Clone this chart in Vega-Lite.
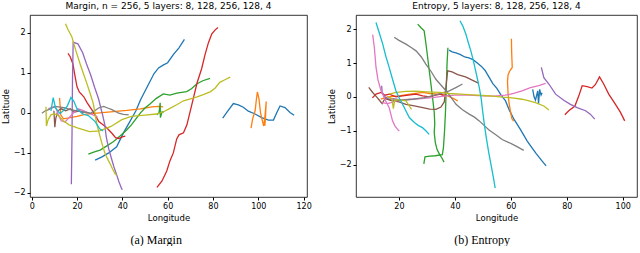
{
"$schema":"https://vega.github.io/schema/vega-lite/v6.json",
"padding":{"left":0,"right":0,"top":1,"bottom":0},
"config":{"font":"DejaVu Sans","view":{"stroke":"#000","strokeWidth":0.8},
"axis":{"grid":false,"domain":false,"labelFontSize":8,"titleFontSize":8.5,"labelColor":"#000","titleColor":"#000","titleFontWeight":"normal","tickColor":"#000","tickSize":3,"labelPadding":2,"titlePadding":3,"labelFont":"DejaVu Sans","titleFont":"DejaVu Sans"},
"title":{"fontSize":9,"fontWeight":"normal","color":"#000","font":"DejaVu Sans"}},
"datasets":{
"L":[
{"s":"blue1","i":0,"x":28,"y":-1.18},{"s":"blue1","i":1,"x":31,"y":-1.1},{"s":"blue1","i":2,"x":34,"y":-1.0},{"s":"blue1","i":3,"x":37.5,"y":-0.85},{"s":"blue1","i":4,"x":40.5,"y":-0.5},{"s":"blue1","i":5,"x":43,"y":-0.25},{"s":"blue1","i":6,"x":46,"y":0.05},{"s":"blue1","i":7,"x":48,"y":0.32},{"s":"blue1","i":8,"x":51,"y":0.65},{"s":"blue1","i":9,"x":54,"y":0.98},{"s":"blue1","i":10,"x":56,"y":1.12},{"s":"blue1","i":11,"x":58,"y":1.19},{"s":"blue1","i":12,"x":60,"y":1.25},{"s":"blue1","i":13,"x":62.5,"y":1.45},{"s":"blue1","i":14,"x":65,"y":1.62},{"s":"blue1","i":15,"x":67.4,"y":1.83},
{"s":"blue2","i":0,"x":84.3,"y":-0.13},{"s":"blue2","i":1,"x":86.1,"y":0.01},{"s":"blue2","i":2,"x":89,"y":0.23},{"s":"blue2","i":3,"x":91.2,"y":0.2},{"s":"blue2","i":4,"x":93.4,"y":0.14},{"s":"blue2","i":5,"x":95.6,"y":0.04},{"s":"blue2","i":6,"x":98.6,"y":-0.03},{"s":"blue2","i":7,"x":101.5,"y":-0.12},{"s":"blue2","i":8,"x":104.5,"y":-0.18},{"s":"blue2","i":9,"x":106.7,"y":-0.18},{"s":"blue2","i":10,"x":108.2,"y":0.01},{"s":"blue2","i":11,"x":109.6,"y":0.17},{"s":"blue2","i":12,"x":111.8,"y":0.13},{"s":"blue2","i":13,"x":114,"y":0.01},{"s":"blue2","i":14,"x":115.8,"y":-0.06},
{"s":"orange1","i":0,"x":12.3,"y":0.37},{"s":"orange1","i":1,"x":12.8,"y":-0.05},{"s":"orange1","i":2,"x":14,"y":-0.15},{"s":"orange1","i":3,"x":17,"y":-0.12},{"s":"orange1","i":4,"x":20,"y":-0.09},{"s":"orange1","i":5,"x":24,"y":-0.03},{"s":"orange1","i":6,"x":30,"y":0.0},{"s":"orange1","i":7,"x":36,"y":0.03},{"s":"orange1","i":8,"x":42,"y":0.06},{"s":"orange1","i":9,"x":48,"y":0.1},{"s":"orange1","i":10,"x":53,"y":0.15},{"s":"orange1","i":11,"x":56,"y":0.16},{"s":"orange1","i":12,"x":58,"y":0.15},
{"s":"orange2","i":0,"x":96.8,"y":-0.38},{"s":"orange2","i":1,"x":97.5,"y":-0.15},{"s":"orange2","i":2,"x":98.6,"y":0.05},{"s":"orange2","i":3,"x":99.2,"y":0.35},{"s":"orange2","i":4,"x":99.6,"y":0.52},{"s":"orange2","i":5,"x":100.3,"y":0.35},{"s":"orange2","i":6,"x":101,"y":0.0},{"s":"orange2","i":7,"x":101.8,"y":-0.2},{"s":"orange2","i":8,"x":102.4,"y":-0.33},{"s":"orange2","i":9,"x":103,"y":-0.05},{"s":"orange2","i":10,"x":103.5,"y":0.28},{"s":"orange2","i":11,"x":103.2,"y":-0.1},{"s":"orange2","i":12,"x":102.9,"y":-0.32},
{"s":"green1","i":0,"x":25,"y":-1.03},{"s":"green1","i":1,"x":28,"y":-0.97},{"s":"green1","i":2,"x":30.2,"y":-0.93},{"s":"green1","i":3,"x":33,"y":-0.83},{"s":"green1","i":4,"x":36,"y":-0.72},{"s":"green1","i":5,"x":39,"y":-0.58},{"s":"green1","i":6,"x":41.9,"y":-0.43},{"s":"green1","i":7,"x":44,"y":-0.3},{"s":"green1","i":8,"x":46,"y":-0.15},{"s":"green1","i":9,"x":48,"y":0.0},{"s":"green1","i":10,"x":50,"y":0.12},{"s":"green1","i":11,"x":52.2,"y":0.22},{"s":"green1","i":12,"x":55,"y":0.36},{"s":"green1","i":13,"x":58.1,"y":0.47},{"s":"green1","i":14,"x":61,"y":0.44},{"s":"green1","i":15,"x":64,"y":0.49},{"s":"green1","i":16,"x":68.4,"y":0.53},{"s":"green1","i":17,"x":70.5,"y":0.6},{"s":"green1","i":18,"x":72.8,"y":0.72},{"s":"green1","i":19,"x":75.5,"y":0.8},{"s":"green1","i":20,"x":78.7,"y":0.86},
{"s":"green2","i":0,"x":55.2,"y":-0.05},{"s":"green2","i":1,"x":56.2,"y":0.0},{"s":"green2","i":2,"x":56.7,"y":0.25},{"s":"green2","i":3,"x":56.8,"y":-0.12},{"s":"green2","i":4,"x":57.5,"y":0.02},{"s":"green2","i":5,"x":58.3,"y":0.02},
{"s":"red1","i":0,"x":16,"y":1.48},{"s":"red1","i":1,"x":17,"y":1.4},{"s":"red1","i":2,"x":18.2,"y":1.22},{"s":"red1","i":3,"x":19,"y":0.95},{"s":"red1","i":4,"x":20,"y":0.65},{"s":"red1","i":5,"x":21,"y":0.52},{"s":"red1","i":6,"x":23,"y":0.4},{"s":"red1","i":7,"x":24.5,"y":0.25},{"s":"red1","i":8,"x":26.5,"y":0.08},{"s":"red1","i":9,"x":28,"y":-0.05},{"s":"red1","i":10,"x":29.6,"y":-0.22},{"s":"red1","i":11,"x":31.5,"y":-0.3},{"s":"red1","i":12,"x":33.2,"y":-0.38},{"s":"red1","i":13,"x":35.4,"y":-0.51},{"s":"red1","i":14,"x":37,"y":-0.62},{"s":"red1","i":15,"x":38.5,"y":-0.64},{"s":"red1","i":16,"x":40,"y":-0.6},{"s":"red1","i":17,"x":41.3,"y":-0.58},
{"s":"red2","i":0,"x":55.3,"y":-1.86},{"s":"red2","i":1,"x":57.5,"y":-1.7},{"s":"red2","i":2,"x":59.6,"y":-1.45},{"s":"red2","i":3,"x":61,"y":-1.2},{"s":"red2","i":4,"x":62.5,"y":-1.0},{"s":"red2","i":5,"x":64,"y":-0.65},{"s":"red2","i":6,"x":65,"y":-0.55},{"s":"red2","i":7,"x":67,"y":-0.5},{"s":"red2","i":8,"x":68.5,"y":-0.3},{"s":"red2","i":9,"x":70,"y":0.05},{"s":"red2","i":10,"x":71.5,"y":0.4},{"s":"red2","i":11,"x":73,"y":0.75},{"s":"red2","i":12,"x":75,"y":1.1},{"s":"red2","i":13,"x":76.5,"y":1.45},{"s":"red2","i":14,"x":78,"y":1.75},{"s":"red2","i":15,"x":79.5,"y":1.97},{"s":"red2","i":16,"x":81,"y":2.07},{"s":"red2","i":17,"x":82.2,"y":2.13},
{"s":"purple1","i":0,"x":17.5,"y":-1.78},{"s":"purple1","i":1,"x":17.8,"y":-0.5},{"s":"purple1","i":2,"x":18.0,"y":0.8},{"s":"purple1","i":3,"x":18.3,"y":1.76},{"s":"purple1","i":4,"x":20.4,"y":1.72},{"s":"purple1","i":5,"x":22.5,"y":1.5},{"s":"purple1","i":6,"x":24.2,"y":1.22},{"s":"purple1","i":7,"x":26,"y":0.95},{"s":"purple1","i":8,"x":27.8,"y":0.63},{"s":"purple1","i":9,"x":29.5,"y":0.35},{"s":"purple1","i":10,"x":30.5,"y":0.12},{"s":"purple1","i":11,"x":31.3,"y":-0.05},{"s":"purple1","i":12,"x":32.2,"y":-0.28},{"s":"purple1","i":13,"x":32.9,"y":-0.6},{"s":"purple1","i":14,"x":34,"y":-0.9},{"s":"purple1","i":15,"x":35.1,"y":-1.12},{"s":"purple1","i":16,"x":36.3,"y":-1.35},{"s":"purple1","i":17,"x":37.4,"y":-1.53},{"s":"purple1","i":18,"x":38.5,"y":-1.72},{"s":"purple1","i":19,"x":39.6,"y":-1.88},{"s":"purple1","i":20,"x":40,"y":-1.92},
{"s":"brown1","i":0,"x":9.8,"y":0.05},{"s":"brown1","i":1,"x":10.2,"y":-0.36},{"s":"brown1","i":2,"x":10.6,"y":-0.15},{"s":"brown1","i":3,"x":11.5,"y":0.05},{"s":"brown1","i":4,"x":13,"y":0.1},{"s":"brown1","i":5,"x":15,"y":0.05},{"s":"brown1","i":6,"x":17,"y":0.1},{"s":"brown1","i":7,"x":19,"y":0.02},{"s":"brown1","i":8,"x":21,"y":0.05},{"s":"brown1","i":9,"x":23,"y":0.0},
{"s":"pink1","i":0,"x":7.3,"y":0.1},{"s":"pink1","i":1,"x":9,"y":0.14},{"s":"pink1","i":2,"x":10.5,"y":0.15},{"s":"pink1","i":3,"x":11.8,"y":-0.05},{"s":"pink1","i":4,"x":13,"y":-0.2},{"s":"pink1","i":5,"x":14.7,"y":-0.23},{"s":"pink1","i":6,"x":16.5,"y":-0.12},{"s":"pink1","i":7,"x":18.5,"y":0.0},{"s":"pink1","i":8,"x":20.5,"y":0.1},{"s":"pink1","i":9,"x":22.5,"y":0.06},{"s":"pink1","i":10,"x":25,"y":0.0},{"s":"pink1","i":11,"x":27,"y":-0.05},{"s":"pink1","i":12,"x":29,"y":-0.1},
{"s":"gray1","i":0,"x":4.5,"y":-0.01},{"s":"gray1","i":1,"x":6,"y":0.05},{"s":"gray1","i":2,"x":7.5,"y":0.08},{"s":"gray1","i":3,"x":9,"y":0.12},{"s":"gray1","i":4,"x":10.4,"y":0.16},{"s":"gray1","i":5,"x":12.5,"y":0.14},{"s":"gray1","i":6,"x":14.8,"y":0.12},{"s":"gray1","i":7,"x":17,"y":0.08},{"s":"gray1","i":8,"x":20.7,"y":0.04},{"s":"gray1","i":9,"x":23,"y":0.02},{"s":"gray1","i":10,"x":25.9,"y":-0.01},{"s":"gray1","i":11,"x":28,"y":0.06},{"s":"gray1","i":12,"x":29.5,"y":0.12},{"s":"gray1","i":13,"x":31.7,"y":0.16},{"s":"gray1","i":14,"x":33.5,"y":0.12},{"s":"gray1","i":15,"x":35.4,"y":0.08},{"s":"gray1","i":16,"x":38.4,"y":-0.01},{"s":"gray1","i":17,"x":40.5,"y":-0.04},{"s":"gray1","i":18,"x":42.8,"y":-0.05},
{"s":"olive1","i":0,"x":14.9,"y":2.22},{"s":"olive1","i":1,"x":16,"y":2.08},{"s":"olive1","i":2,"x":17.7,"y":1.9},{"s":"olive1","i":3,"x":19.5,"y":1.55},{"s":"olive1","i":4,"x":21.3,"y":1.23},{"s":"olive1","i":5,"x":22.8,"y":0.98},{"s":"olive1","i":6,"x":24.3,"y":0.74},{"s":"olive1","i":7,"x":25.8,"y":0.48},{"s":"olive1","i":8,"x":27.2,"y":0.23},{"s":"olive1","i":9,"x":28.7,"y":-0.27},{"s":"olive1","i":10,"x":30.2,"y":-0.6},{"s":"olive1","i":11,"x":31.3,"y":-0.82},{"s":"olive1","i":12,"x":32.4,"y":-1.02},{"s":"olive1","i":13,"x":33.5,"y":-1.15},{"s":"olive1","i":14,"x":34.6,"y":-1.27},{"s":"olive1","i":15,"x":35.7,"y":-1.4},{"s":"olive1","i":16,"x":36.8,"y":-1.52},{"s":"olive1","i":17,"x":37.5,"y":-1.56},
{"s":"olive2","i":0,"x":6.3,"y":0.15},{"s":"olive2","i":1,"x":6.5,"y":-0.33},{"s":"olive2","i":2,"x":7.2,"y":-0.18},{"s":"olive2","i":3,"x":8.5,"y":-0.05},{"s":"olive2","i":4,"x":10,"y":-0.02},{"s":"olive2","i":5,"x":12,"y":-0.08},{"s":"olive2","i":6,"x":14,"y":-0.2},{"s":"olive2","i":7,"x":16.5,"y":-0.3},{"s":"olive2","i":8,"x":20.5,"y":-0.38},{"s":"olive2","i":9,"x":25.5,"y":-0.47},{"s":"olive2","i":10,"x":30,"y":-0.45},{"s":"olive2","i":11,"x":35,"y":-0.34},{"s":"olive2","i":12,"x":39.8,"y":-0.17},{"s":"olive2","i":13,"x":44,"y":-0.09},{"s":"olive2","i":14,"x":50,"y":-0.06},{"s":"olive2","i":15,"x":55,"y":-0.03},{"s":"olive2","i":16,"x":58,"y":0.02},{"s":"olive2","i":17,"x":61,"y":0.11},{"s":"olive2","i":18,"x":64,"y":0.2},{"s":"olive2","i":19,"x":67,"y":0.3},{"s":"olive2","i":20,"x":70,"y":0.35},{"s":"olive2","i":21,"x":73,"y":0.4},{"s":"olive2","i":22,"x":76,"y":0.46},{"s":"olive2","i":23,"x":79,"y":0.53},{"s":"olive2","i":24,"x":81,"y":0.62},{"s":"olive2","i":25,"x":83,"y":0.76},{"s":"olive2","i":26,"x":85.5,"y":0.83},{"s":"olive2","i":27,"x":87.6,"y":0.89},
{"s":"cyan1","i":0,"x":8.5,"y":0.05},{"s":"cyan1","i":1,"x":9.5,"y":0.38},{"s":"cyan1","i":2,"x":10.5,"y":0.12},{"s":"cyan1","i":3,"x":12.5,"y":-0.02},{"s":"cyan1","i":4,"x":14.5,"y":0.08},{"s":"cyan1","i":5,"x":15.8,"y":0.18},{"s":"cyan1","i":6,"x":17.3,"y":0.38},{"s":"cyan1","i":7,"x":18.5,"y":0.3},{"s":"cyan1","i":8,"x":20,"y":0.1},{"s":"cyan1","i":9,"x":22.5,"y":-0.03},{"s":"cyan1","i":10,"x":25,"y":-0.07},{"s":"cyan1","i":11,"x":28,"y":-0.22},{"s":"cyan1","i":12,"x":30,"y":-0.4},{"s":"cyan1","i":13,"x":31.5,"y":-0.45}
],
"R":[
{"s":"blue1","i":0,"x":37.9,"y":1.38},{"s":"blue1","i":1,"x":39,"y":1.33},{"s":"blue1","i":2,"x":40.4,"y":1.3},{"s":"blue1","i":3,"x":42,"y":1.25},{"s":"blue1","i":4,"x":43.5,"y":1.18},{"s":"blue1","i":5,"x":45,"y":1.15},{"s":"blue1","i":6,"x":46.5,"y":1.1},{"s":"blue1","i":7,"x":48,"y":1.0},{"s":"blue1","i":8,"x":49.5,"y":0.9},{"s":"blue1","i":9,"x":50.8,"y":0.78},{"s":"blue1","i":10,"x":52.1,"y":0.6},{"s":"blue1","i":11,"x":53.5,"y":0.4},{"s":"blue1","i":12,"x":55,"y":0.25},{"s":"blue1","i":13,"x":56.5,"y":0.05},{"s":"blue1","i":14,"x":58.1,"y":-0.12},{"s":"blue1","i":15,"x":59.5,"y":-0.4},{"s":"blue1","i":16,"x":61.1,"y":-0.66},{"s":"blue1","i":17,"x":63.4,"y":-0.96},{"s":"blue1","i":18,"x":65.8,"y":-1.3},{"s":"blue1","i":19,"x":67.5,"y":-1.5},{"s":"blue1","i":20,"x":69,"y":-1.67},{"s":"blue1","i":21,"x":71.2,"y":-1.9},{"s":"blue1","i":22,"x":72.6,"y":-2.04},
{"s":"blue2","i":0,"x":67.8,"y":0.22},{"s":"blue2","i":1,"x":68.3,"y":0.0},{"s":"blue2","i":2,"x":68.8,"y":-0.1},{"s":"blue2","i":3,"x":69.6,"y":0.18},{"s":"blue2","i":4,"x":69.9,"y":-0.2},{"s":"blue2","i":5,"x":70.3,"y":0.22},{"s":"blue2","i":6,"x":70.8,"y":0.05},{"s":"blue2","i":7,"x":71.2,"y":0.12},
{"s":"orange1","i":0,"x":60.2,"y":1.72},{"s":"orange1","i":1,"x":60.3,"y":1.3},{"s":"orange1","i":2,"x":60.5,"y":0.87},{"s":"orange1","i":3,"x":59.5,"y":0.75},{"s":"orange1","i":4,"x":59,"y":0.65},{"s":"orange1","i":5,"x":58.8,"y":0.45},{"s":"orange1","i":6,"x":59,"y":0.1},{"s":"orange1","i":7,"x":59.3,"y":-0.15},{"s":"orange1","i":8,"x":59.8,"y":-0.4},{"s":"orange1","i":9,"x":60.4,"y":-0.65},{"s":"orange1","i":10,"x":61,"y":-0.72},
{"s":"orange2","i":0,"x":13.5,"y":-0.07},{"s":"orange2","i":1,"x":16,"y":0.0},{"s":"orange2","i":2,"x":20,"y":0.03},{"s":"orange2","i":3,"x":24,"y":0.08},{"s":"orange2","i":4,"x":28.5,"y":0.13},{"s":"orange2","i":5,"x":31,"y":0.1},{"s":"orange2","i":6,"x":34,"y":0.08},{"s":"orange2","i":7,"x":37,"y":0.05},{"s":"orange2","i":8,"x":39.5,"y":-0.05},{"s":"orange2","i":9,"x":41,"y":-0.12},
{"s":"green1","i":0,"x":26.7,"y":2.15},{"s":"green1","i":1,"x":27.8,"y":2.05},{"s":"green1","i":2,"x":29,"y":1.95},{"s":"green1","i":3,"x":29.6,"y":1.6},{"s":"green1","i":4,"x":30.2,"y":1.2},{"s":"green1","i":5,"x":30.8,"y":0.8},{"s":"green1","i":6,"x":31.4,"y":0.4},{"s":"green1","i":7,"x":32,"y":-0.02},{"s":"green1","i":8,"x":32.6,"y":-0.45},{"s":"green1","i":9,"x":32.8,"y":-0.8},{"s":"green1","i":10,"x":32.6,"y":-1.05},{"s":"green1","i":11,"x":33,"y":-1.35},{"s":"green1","i":12,"x":33.6,"y":-1.55},{"s":"green1","i":13,"x":34.5,"y":-1.7},{"s":"green1","i":14,"x":35.3,"y":-1.8},{"s":"green1","i":15,"x":36.1,"y":-1.93},
{"s":"green2","i":0,"x":28.9,"y":-1.98},{"s":"green2","i":1,"x":29.3,"y":-1.77},{"s":"green2","i":2,"x":31,"y":-1.75},{"s":"green2","i":3,"x":33,"y":-1.74},{"s":"green2","i":4,"x":35.5,"y":-1.71},{"s":"green2","i":5,"x":35.9,"y":-1.5},{"s":"green2","i":6,"x":36.3,"y":-1.0},{"s":"green2","i":7,"x":36.6,"y":-0.5},{"s":"green2","i":8,"x":36.8,"y":0.0},{"s":"green2","i":9,"x":37,"y":0.5},{"s":"green2","i":10,"x":37.2,"y":1.0},{"s":"green2","i":11,"x":37.5,"y":1.45},
{"s":"red1","i":0,"x":10.5,"y":-0.03},{"s":"red1","i":1,"x":11.8,"y":0.08},{"s":"red1","i":2,"x":13.6,"y":0.13},{"s":"red1","i":3,"x":15,"y":0.05},{"s":"red1","i":4,"x":16.5,"y":0.08},{"s":"red1","i":5,"x":19,"y":0.0},{"s":"red1","i":6,"x":21.3,"y":0.03},{"s":"red1","i":7,"x":24,"y":0.06},{"s":"red1","i":8,"x":26.1,"y":0.08},{"s":"red1","i":9,"x":28.5,"y":0.03},{"s":"red1","i":10,"x":30.8,"y":0.0},{"s":"red1","i":11,"x":33,"y":0.05},{"s":"red1","i":12,"x":35,"y":0.08},{"s":"red1","i":13,"x":36,"y":0.03},
{"s":"red2","i":0,"x":79.3,"y":-0.53},{"s":"red2","i":1,"x":80.7,"y":-0.41},{"s":"red2","i":2,"x":82.9,"y":-0.27},{"s":"red2","i":3,"x":84.3,"y":0.03},{"s":"red2","i":4,"x":85.5,"y":0.33},{"s":"red2","i":5,"x":87.3,"y":0.3},{"s":"red2","i":6,"x":89,"y":0.26},{"s":"red2","i":7,"x":90.2,"y":0.36},{"s":"red2","i":8,"x":91.7,"y":0.59},{"s":"red2","i":9,"x":93.2,"y":0.38},{"s":"red2","i":10,"x":95,"y":0.08},{"s":"red2","i":11,"x":97.4,"y":-0.22},{"s":"red2","i":12,"x":99.2,"y":-0.46},{"s":"red2","i":13,"x":100.7,"y":-0.71},
{"s":"purple1","i":0,"x":70.9,"y":0.87},{"s":"purple1","i":1,"x":71.8,"y":0.57},{"s":"purple1","i":2,"x":73.6,"y":0.38},{"s":"purple1","i":3,"x":76,"y":0.08},{"s":"purple1","i":4,"x":78.9,"y":-0.1},{"s":"purple1","i":5,"x":81.3,"y":-0.22},{"s":"purple1","i":6,"x":83.7,"y":-0.32},{"s":"purple1","i":7,"x":86.7,"y":-0.41},{"s":"purple1","i":8,"x":88.4,"y":-0.51},{"s":"purple1","i":9,"x":90,"y":-0.66},
{"s":"purple2","i":0,"x":13.8,"y":0.33},{"s":"purple2","i":1,"x":14,"y":0.13},{"s":"purple2","i":2,"x":15,"y":0.0},{"s":"purple2","i":3,"x":16.5,"y":-0.07},{"s":"purple2","i":4,"x":18,"y":-0.05},{"s":"purple2","i":5,"x":20,"y":-0.08},{"s":"purple2","i":6,"x":22,"y":-0.1},
{"s":"brown1","i":0,"x":9.2,"y":0.28},{"s":"brown1","i":1,"x":10.6,"y":0.13},{"s":"brown1","i":2,"x":12,"y":0.0},{"s":"brown1","i":3,"x":13,"y":-0.1},{"s":"brown1","i":4,"x":14,"y":-0.2},{"s":"brown1","i":5,"x":15,"y":-0.05},{"s":"brown1","i":6,"x":17,"y":-0.1},{"s":"brown1","i":7,"x":20,"y":-0.15},{"s":"brown1","i":8,"x":22.5,"y":-0.22},{"s":"brown1","i":9,"x":25,"y":-0.26},{"s":"brown1","i":10,"x":28.5,"y":-0.32},{"s":"brown1","i":11,"x":31,"y":-0.36},{"s":"brown1","i":12,"x":33.2,"y":-0.37},{"s":"brown1","i":13,"x":35,"y":-0.3},{"s":"brown1","i":14,"x":36.2,"y":-0.15},{"s":"brown1","i":15,"x":36.8,"y":0.3},{"s":"brown1","i":16,"x":37.4,"y":0.77},{"s":"brown1","i":17,"x":39,"y":0.74},{"s":"brown1","i":18,"x":41,"y":0.66},{"s":"brown1","i":19,"x":43.8,"y":0.59},{"s":"brown1","i":20,"x":46,"y":0.5},{"s":"brown1","i":21,"x":48.6,"y":0.4},
{"s":"pink1","i":0,"x":10.6,"y":1.84},{"s":"pink1","i":1,"x":11.2,"y":1.46},{"s":"pink1","i":2,"x":11.8,"y":0.87},{"s":"pink1","i":3,"x":12.5,"y":0.5},{"s":"pink1","i":4,"x":13.6,"y":0.18},{"s":"pink1","i":5,"x":15,"y":-0.08},{"s":"pink1","i":6,"x":16.5,"y":-0.32},{"s":"pink1","i":7,"x":17.7,"y":-0.71},{"s":"pink1","i":8,"x":18.5,"y":-0.85},{"s":"pink1","i":9,"x":19.5,"y":-0.96},{"s":"pink1","i":10,"x":20.1,"y":-1.01},
{"s":"pink2","i":0,"x":14,"y":-0.17},{"s":"pink2","i":1,"x":16,"y":-0.2},{"s":"pink2","i":2,"x":18,"y":-0.15},{"s":"pink2","i":3,"x":20,"y":-0.1},{"s":"pink2","i":4,"x":24,"y":-0.07},{"s":"pink2","i":5,"x":28,"y":-0.05},{"s":"pink2","i":6,"x":32,"y":-0.02},{"s":"pink2","i":7,"x":36,"y":0.02},{"s":"pink2","i":8,"x":40,"y":0.05},{"s":"pink2","i":9,"x":45,"y":0.05},{"s":"pink2","i":10,"x":50,"y":0.03},{"s":"pink2","i":11,"x":54,"y":0.02},{"s":"pink2","i":12,"x":58,"y":0.05},{"s":"pink2","i":13,"x":61,"y":0.1},{"s":"pink2","i":14,"x":64,"y":0.18},{"s":"pink2","i":15,"x":67,"y":0.27},{"s":"pink2","i":16,"x":70,"y":0.33},{"s":"pink2","i":17,"x":72.4,"y":0.4},
{"s":"gray1","i":0,"x":18.3,"y":1.76},{"s":"gray1","i":1,"x":20,"y":1.67},{"s":"gray1","i":2,"x":22.5,"y":1.56},{"s":"gray1","i":3,"x":24.5,"y":1.45},{"s":"gray1","i":4,"x":26.1,"y":1.36},{"s":"gray1","i":5,"x":28,"y":1.18},{"s":"gray1","i":6,"x":29.6,"y":0.97},{"s":"gray1","i":7,"x":31.5,"y":0.75},{"s":"gray1","i":8,"x":33.2,"y":0.52},{"s":"gray1","i":9,"x":35,"y":0.35},{"s":"gray1","i":10,"x":36.8,"y":0.18},{"s":"gray1","i":11,"x":38.5,"y":0.0},{"s":"gray1","i":12,"x":40.4,"y":-0.22},{"s":"gray1","i":13,"x":42.7,"y":-0.38},{"s":"gray1","i":14,"x":45.1,"y":-0.51},{"s":"gray1","i":15,"x":47,"y":-0.6},{"s":"gray1","i":16,"x":48.7,"y":-0.71},{"s":"gray1","i":17,"x":50.5,"y":-0.85},{"s":"gray1","i":18,"x":52.2,"y":-0.98},{"s":"gray1","i":19,"x":54.5,"y":-1.11},{"s":"gray1","i":20,"x":56.9,"y":-1.26},{"s":"gray1","i":21,"x":59.3,"y":-1.35},{"s":"gray1","i":22,"x":61.7,"y":-1.45},{"s":"gray1","i":23,"x":64.6,"y":-1.58},
{"s":"gray2","i":0,"x":17.5,"y":-0.1},{"s":"gray2","i":1,"x":21,"y":-0.1},{"s":"gray2","i":2,"x":25,"y":-0.07},{"s":"gray2","i":3,"x":29,"y":-0.02},{"s":"gray2","i":4,"x":32,"y":0.03},{"s":"gray2","i":5,"x":35,"y":0.1},{"s":"gray2","i":6,"x":38,"y":0.18},{"s":"gray2","i":7,"x":40.5,"y":0.28},{"s":"gray2","i":8,"x":42.7,"y":0.38},
{"s":"olive1","i":0,"x":16.5,"y":0.08},{"s":"olive1","i":1,"x":19,"y":0.13},{"s":"olive1","i":2,"x":22.5,"y":0.16},{"s":"olive1","i":3,"x":26,"y":0.17},{"s":"olive1","i":4,"x":30,"y":0.15},{"s":"olive1","i":5,"x":34.4,"y":0.13},{"s":"olive1","i":6,"x":38,"y":0.1},{"s":"olive1","i":7,"x":42,"y":0.08},{"s":"olive1","i":8,"x":46.3,"y":0.06},{"s":"olive1","i":9,"x":50,"y":0.04},{"s":"olive1","i":10,"x":53.5,"y":0.02},{"s":"olive1","i":11,"x":57,"y":-0.01},{"s":"olive1","i":12,"x":60.5,"y":-0.03},{"s":"olive1","i":13,"x":64,"y":-0.07},{"s":"olive1","i":14,"x":66.5,"y":-0.12},{"s":"olive1","i":15,"x":68.8,"y":-0.17},{"s":"olive1","i":16,"x":71.8,"y":-0.27},{"s":"olive1","i":17,"x":73.6,"y":-0.39},
{"s":"olive2","i":0,"x":16,"y":0.0},{"s":"olive2","i":1,"x":17.5,"y":-0.05},{"s":"olive2","i":2,"x":18,"y":-0.35},{"s":"olive2","i":3,"x":18.5,"y":-0.1},{"s":"olive2","i":4,"x":20,"y":-0.08},{"s":"olive2","i":5,"x":22.5,"y":-0.12},{"s":"olive2","i":6,"x":23.7,"y":-0.27},{"s":"olive2","i":7,"x":24.5,"y":-0.37},
{"s":"cyan1","i":0,"x":11.8,"y":2.2},{"s":"cyan1","i":1,"x":13,"y":1.88},{"s":"cyan1","i":2,"x":14.2,"y":1.56},{"s":"cyan1","i":3,"x":15.3,"y":1.2},{"s":"cyan1","i":4,"x":16.5,"y":0.87},{"s":"cyan1","i":5,"x":17.7,"y":0.52},{"s":"cyan1","i":6,"x":18.9,"y":0.18},{"s":"cyan1","i":7,"x":20,"y":-0.02},{"s":"cyan1","i":8,"x":21.3,"y":-0.22},{"s":"cyan1","i":9,"x":22.5,"y":-0.42},{"s":"cyan1","i":10,"x":23.7,"y":-0.61},{"s":"cyan1","i":11,"x":25.5,"y":-0.76},{"s":"cyan1","i":12,"x":27,"y":-0.85},{"s":"cyan1","i":13,"x":28.4,"y":-0.91},{"s":"cyan1","i":14,"x":29.6,"y":-1.0},{"s":"cyan1","i":15,"x":30.8,"y":-1.11},
{"s":"cyan2","i":0,"x":41.8,"y":2.25},{"s":"cyan2","i":1,"x":42.8,"y":2.1},{"s":"cyan2","i":2,"x":43.9,"y":1.86},{"s":"cyan2","i":3,"x":44.8,"y":1.6},{"s":"cyan2","i":4,"x":45.7,"y":1.36},{"s":"cyan2","i":5,"x":46.5,"y":1.1},{"s":"cyan2","i":6,"x":47.2,"y":0.85},{"s":"cyan2","i":7,"x":48,"y":0.55},{"s":"cyan2","i":8,"x":48.7,"y":0.28},{"s":"cyan2","i":9,"x":49.4,"y":-0.05},{"s":"cyan2","i":10,"x":49.9,"y":-0.41},{"s":"cyan2","i":11,"x":50.5,"y":-0.8},{"s":"cyan2","i":12,"x":51.2,"y":-1.2},{"s":"cyan2","i":13,"x":52.1,"y":-1.65},{"s":"cyan2","i":14,"x":53,"y":-2.05},{"s":"cyan2","i":15,"x":53.8,"y":-2.4},{"s":"cyan2","i":16,"x":54.4,"y":-2.7}
]},
"hconcat":[
{"title":{"text":"(a) Margin","orient":"bottom","font":"Liberation Serif","fontSize":12,"offset":13,"anchor":"middle"},
 "vconcat":[{
  "width":277,"height":182,
  "title":{"text":"Margin, n = 256, 5 layers: 8, 128, 256, 128, 4","offset":4,"frame":"group","anchor":"middle"},
  "data":{"name":"L"},
  "mark":{"type":"line","strokeWidth":1.3,"clip":true},
  "encoding":{
   "x":{"field":"x","type":"quantitative","title":"Longitude","scale":{"domain":[-0.75,121.5],"nice":false,"zero":false},"axis":{"values":[0,20,40,60,80,100,120]}},
   "y":{"field":"y","type":"quantitative","title":"Latitude","scale":{"domain":[-2.1,2.44],"nice":false,"zero":false},"axis":{"values":[-2,-1,0,1,2]}},
   "color":{"field":"s","type":"nominal","legend":null,"scale":{"domain":["blue1","blue2","orange1","orange2","green1","green2","red1","red2","purple1","purple2","brown1","pink1","pink2","gray1","gray2","olive1","olive2","cyan1","cyan2"],"range":["#1f77b4","#1f77b4","#ff7f0e","#ff7f0e","#2ca02c","#2ca02c","#d62728","#d62728","#9467bd","#9467bd","#8c564b","#e377c2","#e377c2","#7f7f7f","#7f7f7f","#bcbd22","#bcbd22","#17becf","#17becf"]}},
   "order":{"field":"i","type":"quantitative"}
  }}]},
{"title":{"text":"(b) Entropy","orient":"bottom","font":"Liberation Serif","fontSize":12,"offset":13,"anchor":"middle"},
 "vconcat":[{
  "width":281,"height":182,
  "title":{"text":"Entropy, 5 layers: 8, 128, 256, 128, 4","offset":4,"frame":"group","anchor":"middle"},
  "data":{"name":"R"},
  "mark":{"type":"line","strokeWidth":1.3,"clip":true},
  "encoding":{
   "x":{"field":"x","type":"quantitative","title":"Longitude","scale":{"domain":[4.64,105.1],"nice":false,"zero":false},"axis":{"values":[20,40,60,80,100]}},
   "y":{"field":"y","type":"quantitative","title":"Latitude","scale":{"domain":[-2.96,2.42],"nice":false,"zero":false},"axis":{"values":[-2,-1,0,1,2]}},
   "color":{"field":"s","type":"nominal","legend":null},
   "order":{"field":"i","type":"quantitative"}
  }}]}
],
"spacing":14,
"resolve":{"scale":{"x":"independent","y":"independent"}}
}
